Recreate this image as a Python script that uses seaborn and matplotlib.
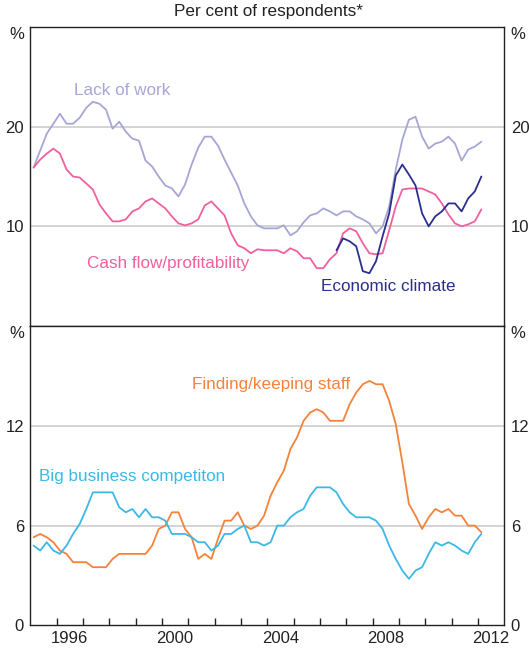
import numpy as np
import pandas as pd
import matplotlib
matplotlib.use('Agg')
import matplotlib.pyplot as plt
import seaborn as sns

# Trimestral, 1995 T1 a 2012 T1 (punto medio de cada trimestre)
trimestres = np.arange(1995.125, 2012.2, 0.25)

falta_trabajo = [15.9, 17.6, 19.3, 20.3, 21.3, 20.3, 20.3, 20.9, 21.9, 22.5,
                 22.3, 21.7, 19.8, 20.5, 19.5, 18.8, 18.6, 16.6, 16.0, 15.0,
                 14.1, 13.8, 13.0, 14.2, 16.2, 17.9, 19.0, 19.0, 18.1, 16.7,
                 15.4, 14.1, 12.3, 11.0, 10.1, 9.8, 9.8, 9.8, 10.1, 9.1,
                 9.5, 10.4, 11.1, 11.3, 11.8, 11.5, 11.1, 11.5, 11.5, 11.0,
                 10.7, 10.3, 9.3, 10.0, 12.0, 15.7, 18.7, 20.7, 21.0, 19.0,
                 17.8, 18.3, 18.5, 19.0, 18.3, 16.6, 17.7, 18.0, 18.5]

flujo_caja = [15.9, 16.7, 17.3, 17.8, 17.3, 15.7, 15.0, 14.9, 14.3, 13.7,
              12.2, 11.3, 10.5, 10.5, 10.7, 11.5, 11.8, 12.5, 12.8, 12.3,
              11.8, 11.0, 10.3, 10.1, 10.3, 10.7, 12.1, 12.5, 11.8, 11.1,
              9.3, 8.1, 7.8, 7.3, 7.7, 7.6, 7.6, 7.6, 7.3, 7.8,
              7.5, 6.8, 6.8, 5.8, 5.8, 6.7, 7.3, 9.3, 9.8, 9.5,
              8.3, 7.3, 7.2, 7.3, 9.6, 12.0, 13.7, 13.8, 13.8, 13.8,
              13.5, 13.2, 12.3, 11.2, 10.3, 10.0, 10.2, 10.5, 11.7]

# Clima economico empieza en el indice 46 (2006 T3)
inicio_clima = 46
clima_economico = [7.6, 8.8, 8.5, 8.0, 5.5, 5.3, 6.5, 9.0, 11.3, 15.1,
                   16.2, 15.2, 14.1, 11.3, 10.0, 11.0, 11.5, 12.3, 12.3, 11.5,
                   12.8, 13.5, 15.0]

personal = [5.3, 5.5, 5.3, 5.0, 4.5, 4.3, 3.8, 3.8, 3.8, 3.5,
            3.5, 3.5, 4.0, 4.3, 4.3, 4.3, 4.3, 4.3, 4.8, 5.8,
            6.0, 6.8, 6.8, 5.8, 5.3, 4.0, 4.3, 4.0, 5.2, 6.3,
            6.3, 6.8, 6.0, 5.8, 6.0, 6.6, 7.8, 8.6, 9.3, 10.6,
            11.3, 12.3, 12.8, 13.0, 12.8, 12.3, 12.3, 12.3, 13.3, 14.0,
            14.5, 14.7, 14.5, 14.5, 13.5, 12.1, 9.8, 7.3, 6.6, 5.8,
            6.5, 7.0, 6.8, 7.0, 6.6, 6.6, 6.0, 6.0, 5.6]

competencia = [4.8, 4.5, 5.0, 4.5, 4.3, 4.8, 5.5, 6.1, 7.0, 8.0,
               8.0, 8.0, 8.0, 7.1, 6.8, 7.0, 6.5, 7.0, 6.5, 6.5,
               6.3, 5.5, 5.5, 5.5, 5.3, 5.0, 5.0, 4.5, 4.8, 5.5,
               5.5, 5.8, 6.0, 5.0, 5.0, 4.8, 5.0, 6.0, 6.0, 6.5,
               6.8, 7.0, 7.8, 8.3, 8.3, 8.3, 8.0, 7.3, 6.8, 6.5,
               6.5, 6.5, 6.3, 5.8, 4.8, 4.0, 3.3, 2.8, 3.3, 3.5,
               4.3, 5.0, 4.8, 5.0, 4.8, 4.5, 4.3, 5.0, 5.5]

anios_ticks = list(range(1996, 2013))
anios_etiquetas = ['1996', '2000', '2004', '2008', '2012']

df_arriba = pd.DataFrame({'fecha': trimestres, 'trabajo': falta_trabajo, 'caja': flujo_caja})
df_clima = pd.DataFrame({'fecha': trimestres[inicio_clima:], 'clima': clima_economico})
df_abajo = pd.DataFrame({'fecha': trimestres, 'personal': personal, 'competencia': competencia})

sns.set_theme(style='white')
plt.rcParams['font.family'] = ['Liberation Sans', 'DejaVu Sans']
plt.rcParams['font.size'] = 12

col_trabajo = '#a6a6d6'
col_caja = '#f0609e'
col_clima = '#2b2e8c'
col_personal = '#f5823a'
col_competencia = '#3cb8e6'
col_grid = '#c8c8c8'
col_eje = '#222222'

fig = plt.figure(figsize=(5.29, 6.51), dpi=100)
ax1 = fig.add_axes([0.0573, 0.4992, 0.8962, 0.4593])
ax2 = fig.add_axes([0.0573, 0.0393, 0.8962, 0.4599])

lw = 1.3
sns.lineplot(data=df_arriba, x='fecha', y='trabajo', ax=ax1, color=col_trabajo, linewidth=lw)
sns.lineplot(data=df_arriba, x='fecha', y='caja', ax=ax1, color=col_caja, linewidth=lw)
sns.lineplot(data=df_clima, x='fecha', y='clima', ax=ax1, color=col_clima, linewidth=lw)
sns.lineplot(data=df_abajo, x='fecha', y='personal', ax=ax2, color=col_personal, linewidth=lw)
sns.lineplot(data=df_abajo, x='fecha', y='competencia', ax=ax2, color=col_competencia, linewidth=lw)

# Ejes y rejilla
for ax in (ax1, ax2):
    ax.set_xlim(1995, 2013)
    ax.set_xlabel('')
    ax.set_ylabel('')
    for s in ax.spines.values():
        s.set_color(col_eje)
        s.set_linewidth(1.0)
        s.set_visible(True)
    ax.grid(False)
    ax.tick_params(axis='y', left=False, right=False, length=0, labelleft=True,
                   labelright=True, pad=4.5, labelsize=12, colors='#222222')

ax1.set_ylim(0, 30)
ax1.set_yticks([10, 20, 30])
ax1.set_yticklabels(['10', '20', '%'])
ax2.set_ylim(0, 18)
ax2.set_yticks([0, 6, 12, 18])
ax2.set_yticklabels(['0', '6', '12', '%'])

for ax, ylist in ((ax1, [10, 20]), (ax2, [6, 12])):
    for yv in ylist:
        ax.axhline(yv, color=col_grid, linewidth=1.1, zorder=0)
    # "%" un poco por debajo del borde superior
    for lab in ax.get_yticklabels() + ax.yaxis.get_ticklabels(which='major'):
        if lab.get_text() == '%':
            lab.set_verticalalignment('top')
    for t in ax.yaxis.get_major_ticks():
        if t.label2.get_text() == '%':
            t.label2.set_verticalalignment('top')

ax1.set_xticks([])
ax2.set_xticks(anios_ticks)
ax2.set_xticks([int(a) + 0.5 for a in anios_etiquetas], minor=True)
ax2.set_xticklabels(anios_etiquetas, minor=True)
ax2.tick_params(axis='x', which='major', direction='in', length=5, width=1.0,
                color=col_eje, labelbottom=False, bottom=True)
ax2.tick_params(axis='x', which='minor', length=0, pad=4, labelsize=12,
                colors='#222222', bottom=True)

# Etiquetas de las series
fs = 12.3
ax1.text(1996.64, 23.6, 'Lack of work', color=col_trabajo, fontsize=fs, va='center')
ax1.text(1997.15, 6.24, 'Cash flow/profitability', color=col_caja, fontsize=fs, va='center')
ax1.text(2006.03, 3.93, 'Economic climate', color=col_clima, fontsize=fs, va='center')
ax2.text(2001.15, 14.48, 'Finding/keeping staff', color=col_personal, fontsize=fs, va='center')
ax2.text(1995.32, 8.94, 'Big business competiton', color=col_competencia, fontsize=fs, va='center')

fig.text(0.507, 0.982, 'Per cent of respondents*', ha='center', va='center',
         fontsize=12.3, color='#222222')

fig.savefig('out.png', dpi=100)
